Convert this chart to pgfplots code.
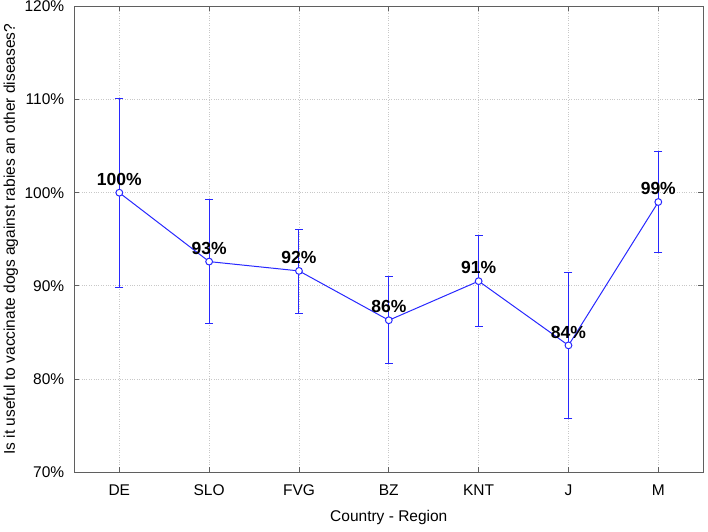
\documentclass[border=0pt]{standalone}
\usepackage{fontspec}
\setmainfont{Liberation Sans}
\usepackage{pgfplots}
\usepackage{pgfplotstable}
\pgfplotsset{compat=1.18}
\definecolor{lineblue}{RGB}{40,40,255}
\definecolor{axgray}{RGB}{95,95,95}
\definecolor{gridgray}{RGB}{200,200,200}

\pgfplotstableread{
x y lo hi lab
0 100.0 89.8 110.1 100
1 92.6 86.0 99.25 93
2 91.6 87.0 96.1 92
3 86.3 81.7 91.0 86
4 90.5 85.65 95.4 91
5 83.6 75.8 91.4 84
6 99.0 93.6 104.4 99
}\datatable

\begin{document}
\begin{tikzpicture}
\begin{axis}[
  name=ax,
  at={(0,0)}, anchor=south west,
  width=628.8pt, height=465.5pt, scale only axis,
  xmin=-0.5, xmax=6.5, ymin=70, ymax=120,
  xtick={0,1,2,3,4,5,6},
  xticklabels={DE,SLO,FVG,BZ,KNT,J,M},
  ytick={70,80,90,100,110,120},
  yticklabel={\pgfmathprintnumber{\tick}\%},
  /pgf/number format/assume math mode=true,
  tick label style={font=\fontsize{15.5}{18}\selectfont},
  xticklabel style={anchor=base, yshift=-23pt},
  yticklabel style={anchor=east, inner sep=0pt, xshift=-10pt},
  tick align=inside,
  major tick length=5pt,
  tick style={axgray, line width=0.8pt},
  axis line style={axgray, line width=0.9pt},
  ymajorgrids=true,
  xmajorgrids=true,
  major grid style={gridgray, dotted, line width=0.7pt},
  xlabel={Country - Region},
  ylabel={Is it useful to vaccinate dogs against rabies an other diseases?},
  label style={font=\fontsize{15.5}{18}\selectfont},
  xlabel style={at={(axis description cs:0.5,0)}, anchor=base, yshift=-49.7pt},
  ylabel style={at={(axis description cs:-0.0945,0.5)}, anchor=base, rotate=0},
  unbounded coords=jump,
  clip=false,
]
% connecting line
\addplot[
  draw=lineblue, line width=1pt, mark=none,
] table[x=x, y=y] {\datatable};
% error bars (whiskers with caps), one segment per category
\addplot[
  draw=lineblue, line width=1pt,
  mark=-, mark size=4pt,
  mark options={draw=lineblue, line width=1pt},
] coordinates {
  (0,89.8) (0,110.1) (0,nan)
  (1,86.0) (1,99.25) (1,nan)
  (2,87.0) (2,96.1) (2,nan)
  (3,81.7) (3,91.0) (3,nan)
  (4,85.65) (4,95.4) (4,nan)
  (5,75.8) (5,91.4) (5,nan)
  (6,93.6) (6,104.4)
};
% open circles
\addplot[
  only marks,
  mark=*, mark size=3.4pt,
  mark options={fill=white, draw=lineblue, line width=1pt},
] table[x=x, y=y] {\datatable};
\addplot[
  draw=none, mark=none,
  point meta=explicit,
  nodes near coords={\pgfmathprintnumber[fixed,precision=0]{\pgfplotspointmeta}\%},
  nodes near coords style={font=\bfseries\fontsize{17.5}{20}\selectfont, anchor=base, inner sep=0pt, yshift=7.3pt},
] table[x=x, y=y, meta=lab] {\datatable};
\end{axis}
\pgfresetboundingbox
\path[use as bounding box] ([xshift=-74.4pt,yshift=-59pt]ax.south west) rectangle ([xshift=4.8pt,yshift=6.5pt]ax.north east);
\end{tikzpicture}
\end{document}
